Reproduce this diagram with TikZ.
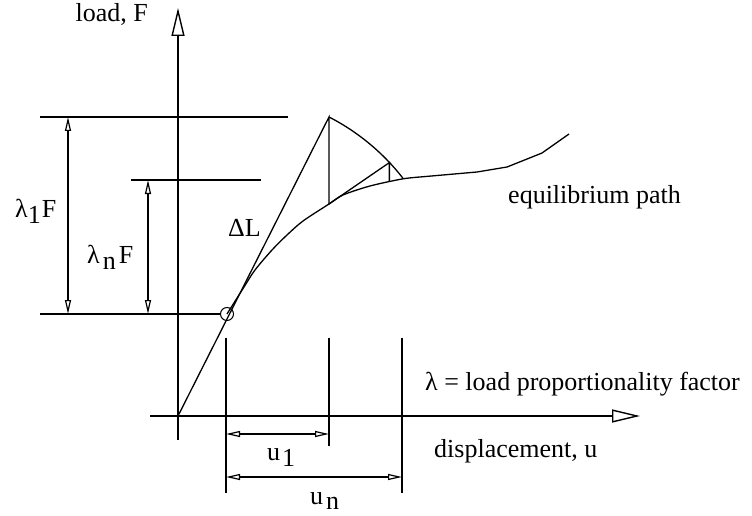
\documentclass[tikz,border=0pt]{standalone}
\usepackage{fontspec}
\setmainfont{Liberation Serif}
\usetikzlibrary{arrows.meta,calc}

\tikzset{
  axisline/.style={line width=1.4pt,-{Triangle[open,length=28pt,width=13pt,line width=1.4pt]}},
  dimline/.style={line width=1.3pt,{Triangle[open,length=14pt,width=6pt,line width=1.2pt]}-{Triangle[open,length=14pt,width=6pt,line width=1.2pt]}},
  thinline/.style={line width=1.3pt},
  lbl/.style={inner sep=0pt,anchor=base west,font=\fontsize{26}{30}\selectfont},
}
\newcommand{\lowsub}[1]{\raisebox{-6pt}{#1}}

\begin{document}
\begin{tikzpicture}[x=1pt,y=-1pt]
\useasboundingbox (0,0) rectangle (752,516);

% points of the construction
\coordinate (orig) at (178,416);
\coordinate (ybot) at (178,440);
\coordinate (ytop) at (178,8);
\coordinate (xbeg) at (150,416);
\coordinate (xtip) at (640,416);
\coordinate (peak) at (329,117);
\coordinate (peakfoot) at (329,204);
\node[circle,draw,line width=1pt,minimum size=13pt,inner sep=0pt] (start) at (227,314) {};
\coordinate (arcpt) at ($(227,314)+(-43:222)$);
\coordinate (arcfoot) at (arcpt|-0,181);

% axes
\draw[axisline] (ybot) -- (ytop);
\draw[axisline] (xbeg) -- (xtip);
\node[lbl,anchor=base east] (yname) at (148,22) {load, F};
\node[lbl] (xname) at (434,457) {displacement, u};

% equilibrium path
\draw[thinline] plot[smooth] coordinates {(227,314) (244,287) (255,270) (272,250) (287,235)
  (303,221) (329,204) (343,195) (370,186) (402,179) (420,177)}
  -- (477,172) -- (507,167) -- (542,153) -- (569,134);
\node[lbl] (pathname) at (508,203) {equilibrium path};

% arc-length steps
\draw[thinline] (orig) -- (peak) -- (peakfoot);
\draw[thinline] (peak) arc[start angle=-62.85, end angle=-37.8, radius=222];
\draw[thinline] (peakfoot) -- (arcpt) -- (arcfoot);
\node[lbl] (dL) at (228,236) {ΔL};

% load levels
\draw[thinline] (40,117) -- (288,117);
\draw[thinline] (131,180) -- (261,180);
\draw[thinline] (40,314) -- (220,314);
\draw[dimline] (68,117) -- (68,314);
\draw[dimline] (148,180) -- (148,314);
\node[lbl] (l1F) at (15,217) {λ\lowsub{1}\kern1ptF};
\node[lbl] (lnF) at (87,263) {λ\kern3pt\lowsub{n}\kern3ptF};

% displacements
\draw[thinline] (226,338) -- (226,493);
\draw[thinline] (329,338) -- (329,446);
\draw[thinline] (402,338) -- (402,493);
\draw[dimline] (226,434) -- (329,434);
\draw[dimline] (226,477) -- (402,477);
\node[lbl] (u1) at (267,460) {u\kern2pt\lowsub{1}};
\node[lbl] (un) at (310,504) {u\kern3pt\raisebox{-5pt}{n}};

\node[lbl] (lamdef) at (425,390) {λ = load proportionality factor};
\end{tikzpicture}
\end{document}
